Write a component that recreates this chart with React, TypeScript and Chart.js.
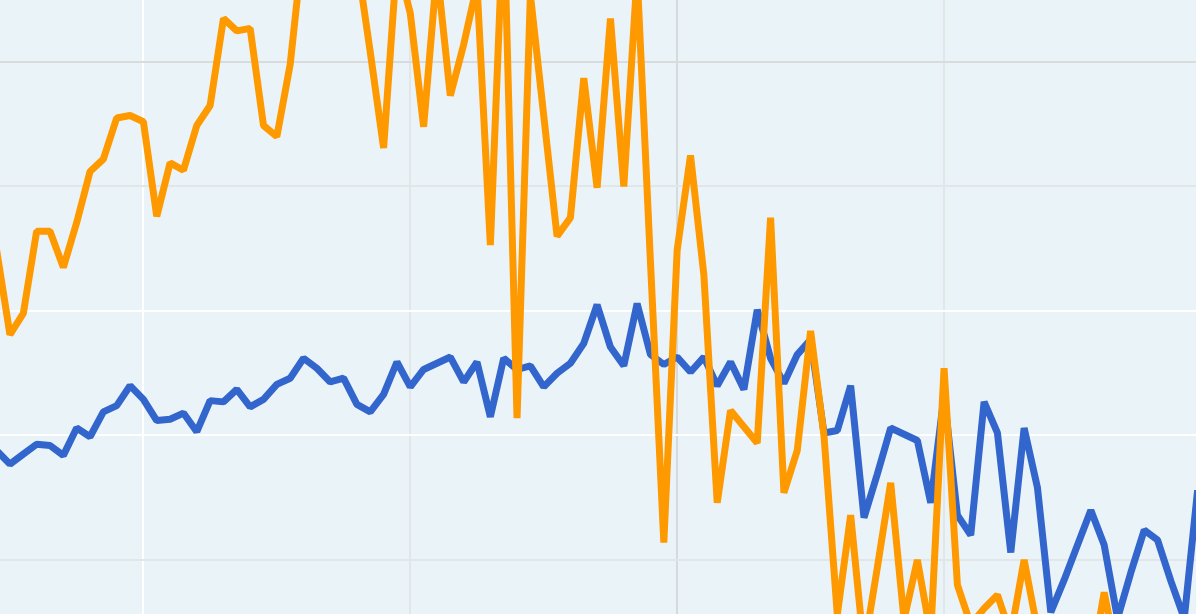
import React, { useEffect, useRef } from "react";
import { Chart, registerables } from "chart.js";

Chart.register(...registerables);

// Sample positions (one per period, gridlines every 20 periods)
const periods: number[] = Array.from({ length: 91 }, (_, i) => i);
const gridTicksX: number[] = [11, 31, 51, 71];
const gridTicksY: number[] = [100, 200, 300, 400, 500];

const blueSeries: number[] = [
  188, 177, 185, 193, 192, 184, 206, 199, 219, 224,
  240, 229, 212, 213, 218, 203, 228, 227, 237, 223,
  229, 241, 246, 262, 254, 243, 246, 225, 219, 233,
  259, 239, 253, 258, 263, 243, 259, 215, 262, 253,
  256, 239, 250, 258, 274, 305, 271, 256, 306, 265,
  257, 263, 251, 263, 240, 259, 237, 301, 262, 242,
  265, 277, 202, 204, 240, 134, 169, 206, 201, 196,
  146, 232, 136, 120, 227, 202, 106, 206, 158, 58,
  84, 112, 140, 112, 53, 90, 124, 116, 83, 53,
  156,
];

const orangeSeries: number[] = [
  349, 281, 298, 364, 364, 335, 371, 412, 422, 455,
  457, 452, 376, 419, 413, 449, 465, 535, 525, 527,
  449, 440, 498, 598, 646, 582, 622, 582, 508, 431,
  582, 539, 448, 574, 473, 514, 562, 353, 622, 214,
  554, 457, 360, 375, 487, 399, 535, 400, 570, 339,
  114, 349, 425, 329, 146, 220, 207, 194, 375, 154,
  188, 284, 200, 56, 136, 28, 94, 162, 52, 100,
  40, 254, 80, 48, 61, 72, 40, 100, 44, 4,
  -12, -4, 12, 74, 20, -12, -29, -12, -20, -29,
  -12,
];

const gridColorX: Record<number, string> = {
  11: "#ffffff",
  31: "#e3e6e7",
  51: "#d7dadb",
  71: "#e3e6e7",
};
const gridColorY: Record<number, string> = {
  100: "#e3e6e7",
  200: "#ffffff",
  300: "#ffffff",
  400: "#e3e6e7",
  500: "#d9dcdd",
};

export default function App() {
  const canvasRef = useRef<HTMLCanvasElement | null>(null);

  useEffect(() => {
    const canvas = canvasRef.current;
    if (!canvas) return;
    const chart = new Chart(canvas, {
      type: "line",
      data: {
        datasets: [
          {
            label: "Series 2",
            data: periods.map((p, i) => ({ x: p, y: orangeSeries[i] })),
            borderColor: "#ff9900",
            borderWidth: 7,
            borderJoinStyle: "bevel",
            pointRadius: 0,
            tension: 0,
            fill: false,
          },
          {
            label: "Series 1",
            data: periods.map((p, i) => ({ x: p, y: blueSeries[i] })),
            borderColor: "#3366cc",
            borderWidth: 7,
            borderJoinStyle: "bevel",
            pointRadius: 0,
            tension: 0,
            fill: false,
          },
        ],
      },
      options: {
        animation: false,
        responsive: false,
        maintainAspectRatio: false,
        layout: { padding: 0 },
        plugins: {
          legend: { display: false },
          tooltip: { enabled: false },
          title: { display: false },
        },
        scales: {
          x: {
            type: "linear",
            min: 0.254,
            max: 89.88,
            afterBuildTicks: (scale: any) => {
              scale.ticks = gridTicksX.map((v) => ({ value: v }));
            },
            ticks: { display: false },
            border: { display: false },
            grid: {
              drawTicks: false,
              lineWidth: 2,
              color: (ctx: any) => gridColorX[ctx.tick?.value] ?? "#e3e6e7",
            },
          },
          y: {
            type: "linear",
            min: 56.6,
            max: 549.8,
            afterBuildTicks: (scale: any) => {
              scale.ticks = gridTicksY.map((v) => ({ value: v }));
            },
            ticks: { display: false },
            border: { display: false },
            grid: {
              drawTicks: false,
              lineWidth: 2,
              color: (ctx: any) => gridColorY[ctx.tick?.value] ?? "#e3e6e7",
            },
          },
        },
      },
    });
    return () => chart.destroy();
  }, []);

  return (
    <div style={{ position: "fixed", left: 0, top: 0, width: 1196, height: 614 }}>
      <canvas
        ref={canvasRef}
        width={1196}
        height={614}
        style={{ display: "block", width: 1196, height: 614, background: "#eaf4f8" }}
      />
    </div>
  );
}
